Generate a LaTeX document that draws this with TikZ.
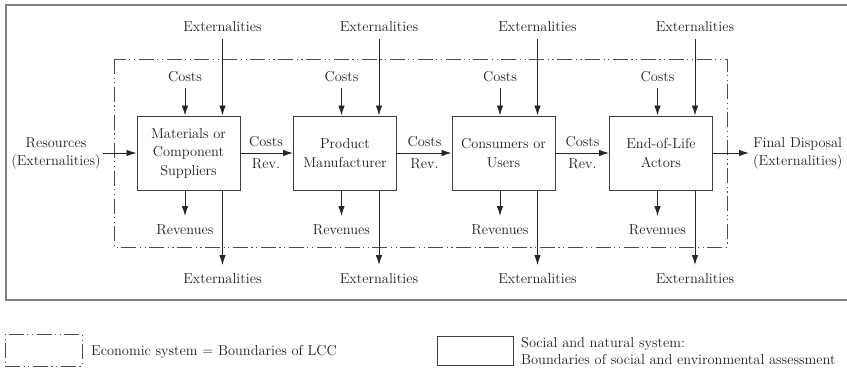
\documentclass[tikz,border=0pt]{standalone}
\usetikzlibrary{arrows.meta}
\begin{document}
\begin{tikzpicture}[x=1pt,y=-1pt,
  txt/.style={font=\fontsize{14.4}{18}\selectfont, text=black!88, inner sep=0pt, align=center},
  actor/.style={draw=black!75, line width=1pt, minimum width=103pt, minimum height=74pt, inner sep=0pt, align=center, font=\fontsize{14.4}{18.5}\selectfont, text=black!88},
  arr/.style={draw=black!85, line width=0.9pt, -{Latex[length=10pt,width=6.5pt]}},
  dashdot/.style={draw=black!70, line width=0.9pt, dash pattern=on 15pt off 3.5pt on 1.2pt off 3.5pt on 1.2pt off 3.5pt}
]
\useasboundingbox (0,0) rectangle (847,370);
% outer frame (right edge lies beyond the picture)
\begin{scope}
\clip (0,0) rectangle (847,370);
\draw[black!50, line width=1.4pt] (6,5) rectangle (852,300);
\end{scope}
% economic boundary
\draw[dashdot] (114,59) rectangle (727,247);

% boxes
\node[actor] (b1) at (188.5,153) {Materials or\\Component\\Suppliers};
\node[actor] (b2) at (345,153) {Product\\Manufacturer};
\node[actor] (b3) at (503.5,153) {Consumers or\\Users};
\node[actor] (b4) at (661,153) {End-of-Life\\Actors};

% inputs/outputs per box
\foreach \i/\cx in {1/188.5, 2/345, 3/503.5, 4/661} {
  \node[txt] (c\i) at (\cx-3.5,77) {Costs};
  \node[txt] (et\i) at (\cx+34,27) {Externalities};
  \node[txt] (r\i) at (\cx-3.5,230) {Revenues};
  \node[txt] (eb\i) at (\cx+34,279) {Externalities};
  \coordinate (cs\i) at (\cx-3.5,88);
  \coordinate (es\i) at (\cx+34,39);
  \coordinate (re\i) at (\cx-3.5,216);
  \coordinate (ee\i) at (\cx+34,265);
  \draw[arr] (cs\i) -- (cs\i |- b\i.north);
  \draw[arr] (es\i) -- (es\i |- b\i.north);
  \draw[arr] (re\i |- b\i.south) -- (re\i);
  \draw[arr] (ee\i |- b\i.south) -- (ee\i);
}

% resources and disposal
\node[txt] (res) at (56,153) {Resources\\(Externalities)};
\coordinate (resend) at (103,153);
\draw[arr] (resend) -- (b1.west);
\node[txt, anchor=west] (fd) at (753,153) {Final Disposal\\(Externalities)};
\coordinate (fdend) at (749,153);
\draw[arr] (b4.east) -- (fdend);

% flows between boxes
\foreach \a/\b/\mx in {1/2/266, 2/3/424.5, 3/4/582.5} {
  \draw[arr] (b\a.east) -- (b\b.west);
  \node[txt] (fc\a) at (\mx,142) {Costs};
  \node[txt] (fr\a) at (\mx,164) {Rev.};
}

% legend
\node[dashdot, minimum width=77pt, minimum height=32pt, inner sep=0pt] (l1) at (43.5,350) {};
\node[txt, anchor=west] (l1t) at (91,352) {Economic system = Boundaries of LCC};
\node[draw=black!75, line width=1pt, minimum width=76pt, minimum height=29pt, inner sep=0pt] (l2) at (475,350.5) {};
\node[txt, anchor=west, align=left, font=\fontsize{14.4}{17}\selectfont] (l2t) at (521,350.5) {Social and natural system:\\Boundaries of social and environmental assessment};
\end{tikzpicture}
\end{document}
